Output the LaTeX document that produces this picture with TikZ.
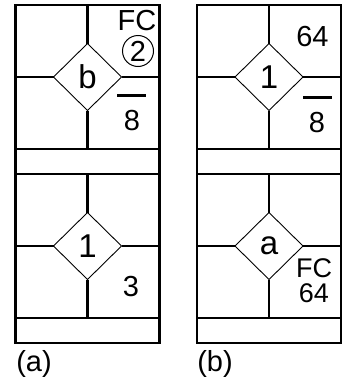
\documentclass[tikz,border=0pt]{standalone}
\usepackage{fontspec}
\setmainfont{Liberation Sans}
\usetikzlibrary{shapes.geometric}

\begin{document}
\begin{tikzpicture}[
    x=1pt, y=-1pt,
    cellbox/.style={draw, line width=2.2pt, minimum width=144pt, minimum height=144pt, inner sep=0pt, outer sep=0pt},
    stripbox/.style={draw, line width=2.2pt, minimum width=144pt, minimum height=25pt, inner sep=0pt, outer sep=0pt},
    dia/.style={draw, diamond, line width=0.9pt, minimum width=68pt, minimum height=67pt, inner sep=0pt, outer sep=0pt, font=\fontsize{33}{33}\selectfont},
    cut/.style={line width=2.2pt},
    lbl/.style={inner sep=0pt, font=\fontsize{29}{29}\selectfont},
    bar/.style={fill=black, minimum width=29pt, minimum height=3pt, inner sep=0pt}
  ]
    \useasboundingbox (0,0) rectangle (342,380);

    % four blocks: cell, strip below it, diamond in the middle
    \foreach \nm/\cx/\cy/\txt in {ul/87.5/77/b, ur/269/77/1, ll/87.5/246/1, lr/269/246/a} {
      \node[cellbox] (\nm cell) at (\cx,\cy) {};
      \node[stripbox] (\nm strip) at (\cx,\cy+84.5) {};
      \node[dia] (\nm dia) at (\cx,\cy) {\txt};
      \draw[cut] (\nm dia.north) -- (\nm dia.north |- \nm cell.north);
      \draw[cut] (\nm dia.south) -- (\nm dia.south |- \nm cell.south);
      \draw[cut] (\nm dia.west) -- (\nm dia.west -| \nm cell.west);
      \draw[cut] (\nm dia.east) -- (\nm dia.east -| \nm cell.east);
    }

    % upper left
    \node[lbl] (ulfc) at (137,21) {FC};
    \node[lbl, circle, draw, line width=1pt, minimum size=31pt] (ulnum) at (138,51) {2};
    \node[bar] (ulbar) at (131.5,95) {};
    \node[lbl] (uleight) at (132,121) {8};

    % upper right
    \node[lbl] (urnum) at (312.5,37) {64};
    \node[bar] (urbar) at (317,97) {};
    \node[lbl] (ureight) at (317,123) {8};

    % lower left
    \node[lbl] (llnum) at (131,287) {3};

    % lower right
    \node[lbl, align=center, font=\fontsize{27}{25}\selectfont] (lrfc) at (314,281) {FC\\64};

    % captions
    \node[lbl] (capa) at (34,364) {(a)};
    \node[lbl] (capb) at (215,364) {(b)};
\end{tikzpicture}
\end{document}
